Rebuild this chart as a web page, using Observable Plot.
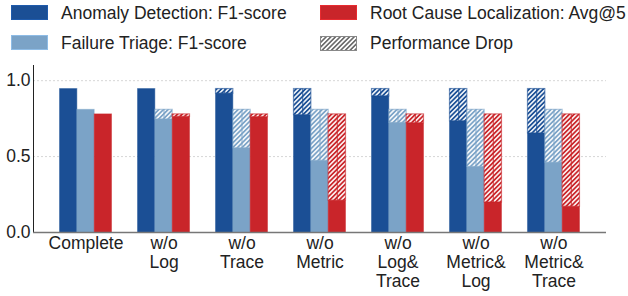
<!DOCTYPE html>
<html><head><meta charset="utf-8">
<script src="https://cdn.jsdelivr.net/npm/d3@7"></script>
<script src="https://cdn.jsdelivr.net/npm/@observablehq/plot@0.6"></script>
<style>
body{margin:0;background:#fff;font-family:"Liberation Sans",Arial,sans-serif;}
#wrap{width:628px;height:296px;position:relative;overflow:hidden}
#legend{position:relative;height:56px;width:628px;font-size:17.5px;color:#222}
.sw{position:absolute;width:37px;height:15px;box-sizing:border-box}
.lt{position:absolute;line-height:17.5px;white-space:nowrap}
#chart svg{display:block}
</style></head><body>
<div id="wrap"><div id="legend"></div><div id="chart"></div></div>
<script>
const categories = ["Complete","w/o Log","w/o Trace","w/o Metric","w/o Log&Trace","w/o Metric&Log","w/o Metric&Trace"];
const tickLabels = ["Complete","w/o\nLog","w/o\nTrace","w/o\nMetric","w/o\nLog&\nTrace","w/o\nMetric&\nLog","w/o\nMetric&\nTrace"];
const seriesNames = ["Anomaly Detection: F1-score","Failure Triage: F1-score","Root Cause Localization: Avg@5"];
const seriesColors = ["#1b4f95","#7ba3c7","#c9252a"];
const anomalyF1 = [0.945,0.945,0.915,0.773,0.897,0.733,0.653];
const triageF1  = [0.808,0.745,0.555,0.472,0.722,0.432,0.460];
const rclAvg5   = [0.778,0.762,0.760,0.210,0.720,0.198,0.170];
const yTicks = [0,0.5,1.0];
const dropLabel = "Performance Drop";

const seriesValues = [anomalyF1, triageF1, rclAvg5];
const barThird = 52.0/3;

// Legend (HTML, above the SVG)
const legend = document.getElementById("legend");
const legendItems = [
  {name: seriesNames[0], color: seriesColors[0], left: 11, top: 5},
  {name: seriesNames[1], color: seriesColors[1], left: 11, top: 35},
  {name: seriesNames[2], color: seriesColors[2], left: 320, top: 5},
  {name: dropLabel, color: null, left: 320, top: 35}
];
legendItems.forEach(it => {
  const sw = document.createElement("div");
  sw.className = "sw";
  sw.style.left = it.left + "px";
  sw.style.top = it.top + "px";
  if (it.color) {
    sw.style.background = it.color;
    sw.style.border = "1px solid " + d3.color(it.color).brighter(0.4);
  } else {
    sw.innerHTML = '<svg width="37" height="15"><defs><pattern id="lgh" patternUnits="userSpaceOnUse" width="3.3" height="3.3" patternTransform="rotate(45)"><rect width="3.3" height="3.3" fill="white"/><line x1="1.65" y1="0" x2="1.65" y2="3.3" stroke="#444" stroke-width="1.3"/></pattern></defs><rect x="0.5" y="0.5" width="36" height="14" fill="url(#lgh)" stroke="#888" stroke-width="1"/></svg>';
  }
  legend.appendChild(sw);
  const t = document.createElement("div");
  t.className = "lt";
  t.textContent = it.name;
  t.style.left = (it.left + 50) + "px";
  t.style.top = it.top + "px";
  legend.appendChild(t);
});

const rowsBySeries = seriesValues.map((vals, s) =>
  categories.map((c, k) => ({category: c, series: seriesNames[s], value: vals[k], full: vals[0]}))
);

const marks = [
  Plot.ruleY(yTicks.filter(d => d > 0), {stroke: "#d6d6d6", strokeDasharray: "2,2", strokeWidth: 1})
];
rowsBySeries.forEach((rows, i) => {
  const c = seriesColors[i];
  marks.push(Plot.barY(rows, {x: "category", y: "value", fill: c, stroke: c, strokeOpacity: 0.45, strokeWidth: 1,
    insetLeft: i * barThird, insetRight: (2 - i) * barThird}));
  marks.push(Plot.barY(rows, {x: "category", y1: "value", y2: "full", fill: `url(#hatch${i})`, stroke: c, strokeOpacity: 0.6, strokeWidth: 1.2,
    insetLeft: i * barThird, insetRight: (2 - i) * barThird}));
  marks.push(Plot.ruleX(rows.filter(d => d.full - d.value > 0.005), {x: "category", y1: "value", y2: "full", dx: (i - 1) * barThird, stroke: c, strokeOpacity: 0.75, strokeWidth: 1.2}));
});
marks.push(
  Plot.frame({anchor: "left", stroke: "#222", strokeWidth: 1}),
  Plot.ruleY([0], {stroke: "#777", strokeWidth: 1.5}),
  Plot.axisY({ticks: yTicks, tickSize: 0, tickPadding: 3, tickFormat: d => d.toFixed(1), fontSize: 17.5, label: null}),
  Plot.axisX({tickSize: 0, tickPadding: 3, tickFormat: d => tickLabels[categories.indexOf(d)], fontSize: 17.5, lineHeight: 1.09, label: null})
);

const chart = Plot.plot({
  width: 628, height: 240,
  marginTop: 9, marginBottom: 64, marginLeft: 33, marginRight: 22,
  x: {domain: categories, paddingInner: 1/3, paddingOuter: 0.34, round: false},
  y: {domain: [0, 1.1]},
  style: {fontFamily: '"Liberation Sans", Arial, sans-serif', fontSize: "17.5px", color: "#222", background: "white", overflow: "visible"},
  marks
});
document.getElementById("chart").appendChild(chart);

const svgEl = chart.tagName.toLowerCase() === "svg" ? chart : chart.querySelector("svg");
const defs = d3.select(svgEl).insert("defs", ":first-child");
seriesColors.forEach((c, i) => {
  const p = defs.append("pattern").attr("id", "hatch" + i).attr("patternUnits", "userSpaceOnUse")
    .attr("width", 3.3).attr("height", 3.3).attr("patternTransform", "rotate(45)");
  p.append("rect").attr("width", 3.3).attr("height", 3.3).attr("fill", "white");
  p.append("line").attr("x1", 1.65).attr("y1", 0).attr("x2", 1.65).attr("y2", 3.3).attr("stroke", c).attr("stroke-width", 1.8);
});
</script>
</body></html>
